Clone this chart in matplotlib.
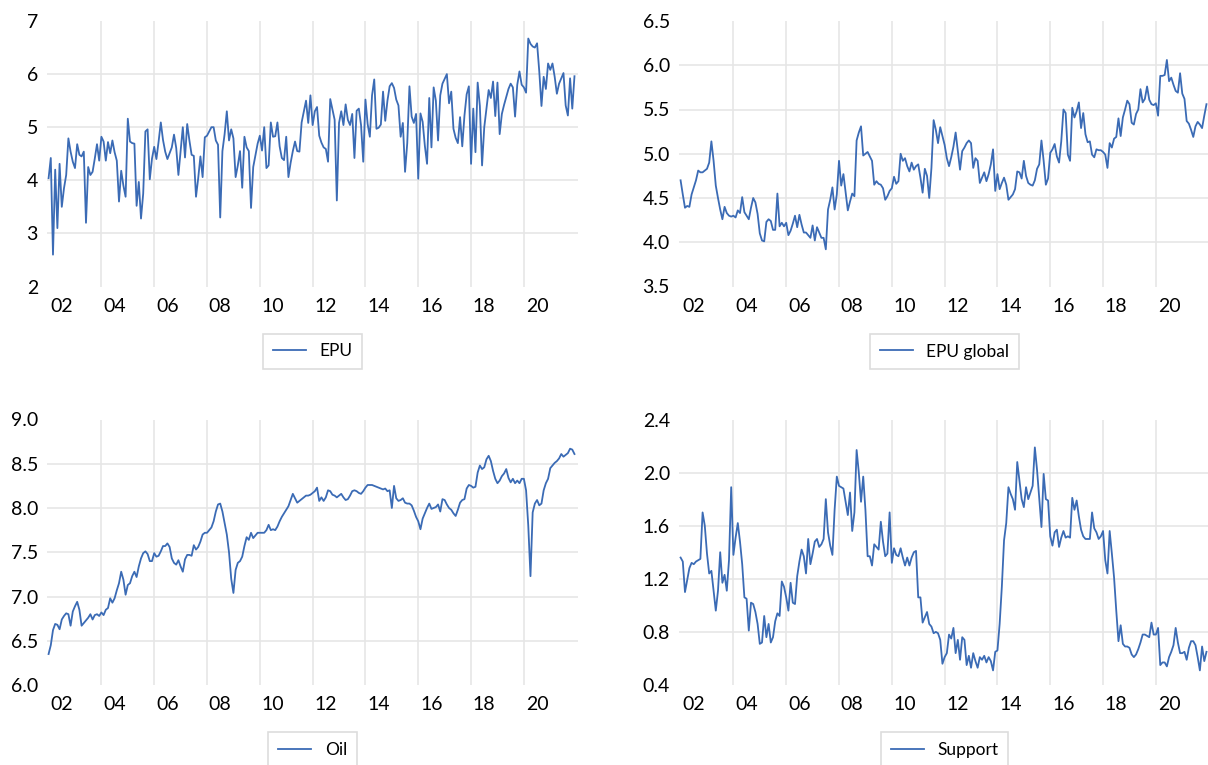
import numpy as np
import matplotlib
matplotlib.use("Agg")
import matplotlib.pyplot as plt

# monthly series, 2002M01 - 2021M12
epu = [4.04, 4.42, 2.60, 4.20, 3.10, 4.31, 3.50, 3.85, 4.10, 4.79, 4.54, 4.35,
       4.23, 4.68, 4.48, 4.45, 4.54, 3.20, 4.25, 4.10, 4.16, 4.41, 4.68, 4.37,
       4.82, 4.73, 4.37, 4.72, 4.51, 4.75, 4.53, 4.37, 3.60, 4.18, 3.90, 3.69,
       5.16, 4.73, 4.70, 4.69, 3.52, 3.97, 3.28, 3.75, 4.92, 4.96, 4.02, 4.41,
       4.63, 4.40, 4.73, 5.09, 4.76, 4.54, 4.40, 4.51, 4.62, 4.86, 4.61, 4.10,
       4.54, 5.00, 4.43, 5.06, 4.75, 4.48, 4.46, 3.69, 4.04, 4.45, 4.06, 4.81,
       4.84, 4.92, 5.00, 5.00, 4.75, 4.67, 3.30, 4.55, 4.87, 5.30, 4.75, 4.96,
       4.79, 4.06, 4.28, 4.55, 3.86, 4.82, 4.62, 4.55, 3.48, 4.25, 4.47, 4.69,
       4.84, 4.56, 5.00, 4.23, 4.28, 5.09, 4.82, 4.83, 5.09, 4.64, 4.42, 4.38,
       4.82, 4.06, 4.33, 4.55, 4.73, 4.55, 4.54, 5.09, 5.30, 5.50, 5.08, 5.60,
       5.04, 5.30, 5.38, 4.84, 4.71, 4.62, 4.59, 4.35, 5.53, 5.33, 5.14, 3.62,
       5.08, 5.30, 5.04, 5.43, 5.14, 5.04, 5.25, 4.42, 5.31, 5.35, 5.04, 4.35,
       5.52, 5.06, 4.82, 5.60, 5.90, 4.97, 4.99, 5.05, 5.67, 5.12, 5.50, 5.77,
       5.83, 5.74, 5.52, 5.41, 4.82, 5.08, 4.16, 4.70, 5.77, 5.20, 5.08, 5.25,
       4.03, 5.26, 5.10, 4.65, 4.31, 5.55, 4.62, 5.75, 5.50, 4.75, 5.60, 5.82,
       5.91, 6.00, 5.45, 5.67, 4.97, 4.80, 4.70, 5.19, 4.64, 5.22, 5.62, 5.77,
       4.31, 5.35, 4.53, 5.84, 5.40, 4.28, 5.00, 5.35, 5.70, 5.55, 5.86, 5.21,
       5.84, 4.87, 5.25, 5.42, 5.57, 5.72, 5.82, 5.75, 5.20, 5.80, 6.05, 5.80,
       5.75, 5.65, 6.67, 6.57, 6.52, 6.50, 6.58, 6.05, 5.40, 5.95, 5.72, 6.20,
       6.08, 6.20, 5.95, 5.63, 5.82, 5.92, 6.02, 5.41, 5.22, 5.92, 5.35, 5.96]

epu_global = [4.70, 4.54, 4.39, 4.41, 4.40, 4.54, 4.62, 4.70, 4.81, 4.79, 4.79, 4.81,
              4.83, 4.90, 5.14, 4.92, 4.64, 4.50, 4.37, 4.26, 4.40, 4.33, 4.30, 4.29,
              4.30, 4.28, 4.36, 4.33, 4.51, 4.34, 4.30, 4.26, 4.39, 4.50, 4.45, 4.32,
              4.10, 4.02, 4.01, 4.23, 4.26, 4.24, 4.14, 4.14, 4.55, 4.18, 4.22, 4.18,
              4.22, 4.08, 4.13, 4.21, 4.30, 4.17, 4.31, 4.20, 4.11, 4.11, 4.08, 4.05,
              4.19, 4.02, 4.17, 4.11, 4.05, 4.05, 3.92, 4.37, 4.48, 4.62, 4.37, 4.54,
              4.92, 4.64, 4.77, 4.56, 4.36, 4.46, 4.55, 4.52, 5.15, 5.24, 5.31, 4.98,
              5.00, 5.02, 4.97, 4.92, 4.65, 4.69, 4.66, 4.65, 4.61, 4.48, 4.52, 4.58,
              4.61, 4.74, 4.66, 4.69, 5.00, 4.92, 4.95, 4.86, 4.80, 4.90, 4.82, 4.86,
              4.88, 4.73, 4.56, 4.83, 4.75, 4.50, 4.84, 5.38, 5.27, 5.12, 5.30, 5.20,
              5.10, 4.95, 4.86, 4.96, 5.08, 5.24, 5.03, 4.82, 5.03, 5.07, 5.12, 5.15,
              5.12, 4.84, 4.95, 4.92, 4.67, 4.73, 4.79, 4.69, 4.77, 4.88, 5.05, 4.58,
              4.77, 4.60, 4.67, 4.73, 4.65, 4.48, 4.51, 4.54, 4.60, 4.80, 4.79, 4.72,
              4.92, 4.75, 4.67, 4.65, 4.64, 4.70, 4.83, 4.88, 5.15, 4.92, 4.65, 4.72,
              5.01, 5.05, 5.11, 4.97, 4.90, 5.14, 5.50, 5.46, 4.99, 4.92, 5.52, 5.41,
              5.48, 5.58, 5.29, 5.46, 5.22, 5.13, 5.14, 4.99, 4.96, 5.05, 5.04, 5.04,
              5.02, 4.99, 4.84, 5.12, 5.07, 5.17, 5.19, 5.40, 5.20, 5.41, 5.50, 5.60,
              5.56, 5.35, 5.33, 5.45, 5.50, 5.73, 5.58, 5.62, 5.76, 5.61, 5.56, 5.55,
              5.57, 5.43, 5.88, 5.88, 5.89, 6.06, 5.82, 5.86, 5.78, 5.71, 5.69, 5.91,
              5.68, 5.62, 5.37, 5.34, 5.27, 5.19, 5.31, 5.36, 5.33, 5.29, 5.43, 5.56]

oil = [6.35, 6.45, 6.62, 6.69, 6.68, 6.63, 6.74, 6.78, 6.81, 6.80, 6.67, 6.83,
       6.89, 6.94, 6.85, 6.67, 6.70, 6.73, 6.76, 6.80, 6.74, 6.79, 6.80, 6.78,
       6.82, 6.79, 6.85, 6.87, 6.98, 6.93, 6.98, 7.07, 7.15, 7.28, 7.19, 7.02,
       7.13, 7.15, 7.23, 7.28, 7.22, 7.34, 7.43, 7.49, 7.51, 7.48, 7.40, 7.40,
       7.49, 7.45, 7.46, 7.51, 7.57, 7.57, 7.60, 7.56, 7.43, 7.38, 7.36, 7.41,
       7.34, 7.28, 7.42, 7.47, 7.47, 7.46, 7.58, 7.53, 7.56, 7.62, 7.70, 7.72,
       7.72, 7.75, 7.78, 7.85, 7.96, 8.04, 8.05, 7.96, 7.83, 7.70, 7.50, 7.20,
       7.04, 7.30, 7.38, 7.40, 7.45, 7.57, 7.67, 7.64, 7.72, 7.66, 7.69, 7.72,
       7.72, 7.72, 7.72, 7.75, 7.81, 7.75, 7.76, 7.75, 7.79, 7.85, 7.90, 7.94,
       7.98, 8.02, 8.09, 8.16, 8.11, 8.06, 8.08, 8.10, 8.12, 8.14, 8.14, 8.15,
       8.17, 8.19, 8.23, 8.08, 8.12, 8.08, 8.12, 8.20, 8.19, 8.15, 8.14, 8.12,
       8.14, 8.16, 8.12, 8.09, 8.10, 8.14, 8.19, 8.20, 8.19, 8.17, 8.16, 8.19,
       8.23, 8.26, 8.26, 8.26, 8.25, 8.24, 8.23, 8.22, 8.21, 8.22, 8.19, 8.20,
       8.00, 8.25, 8.11, 8.08, 8.09, 8.11, 8.06, 8.05, 8.05, 8.03, 7.97, 7.90,
       7.85, 7.76, 7.88, 7.94, 8.00, 8.05, 7.99, 8.00, 8.01, 8.04, 7.96, 8.10,
       8.09, 8.04, 8.00, 7.98, 7.94, 7.91, 7.98, 8.06, 8.09, 8.10, 8.22, 8.26,
       8.25, 8.23, 8.24, 8.40, 8.48, 8.44, 8.46, 8.55, 8.59, 8.53, 8.42, 8.33,
       8.28, 8.31, 8.36, 8.39, 8.44, 8.34, 8.29, 8.33, 8.28, 8.31, 8.28, 8.33,
       8.33, 8.20, 7.80, 7.23, 7.95, 8.05, 8.09, 8.03, 8.05, 8.20, 8.28, 8.33,
       8.45, 8.48, 8.51, 8.53, 8.56, 8.61, 8.58, 8.60, 8.62, 8.67, 8.66, 8.61]

support = [1.36, 1.33, 1.10, 1.19, 1.28, 1.32, 1.31, 1.33, 1.34, 1.35, 1.70, 1.60,
           1.39, 1.24, 1.26, 1.11, 0.96, 1.11, 1.40, 1.17, 1.23, 1.11, 1.34, 1.89,
           1.38, 1.51, 1.62, 1.48, 1.31, 1.06, 1.05, 0.81, 1.02, 1.01, 0.95, 0.86,
           0.71, 0.72, 0.92, 0.76, 0.86, 0.72, 0.76, 0.88, 0.94, 0.92, 1.18, 1.14,
           1.06, 0.96, 1.17, 1.02, 1.01, 1.22, 1.33, 1.42, 1.37, 1.24, 1.50, 1.31,
           1.39, 1.48, 1.50, 1.44, 1.46, 1.50, 1.80, 1.55, 1.45, 1.38, 1.72, 1.97,
           1.90, 1.89, 1.88, 1.78, 1.68, 1.85, 1.56, 1.70, 2.17, 2.00, 1.78, 1.97,
           1.72, 1.37, 1.37, 1.30, 1.46, 1.44, 1.42, 1.63, 1.48, 1.37, 1.39, 1.70,
           1.32, 1.43, 1.38, 1.37, 1.43, 1.36, 1.30, 1.36, 1.30, 1.36, 1.40, 1.41,
           1.06, 1.06, 0.87, 0.91, 0.95, 0.86, 0.84, 0.79, 0.80, 0.79, 0.74, 0.56,
           0.61, 0.64, 0.78, 0.75, 0.83, 0.64, 0.74, 0.59, 0.76, 0.74, 0.55, 0.62,
           0.53, 0.64, 0.58, 0.53, 0.61, 0.59, 0.62, 0.57, 0.61, 0.58, 0.51, 0.65,
           0.66, 0.86, 1.14, 1.49, 1.62, 1.89, 1.84, 1.80, 1.72, 2.08, 1.94, 1.80,
           1.74, 1.89, 1.80, 1.85, 1.90, 2.19, 2.02, 1.80, 1.59, 1.99, 1.80, 1.79,
           1.52, 1.45, 1.55, 1.57, 1.44, 1.51, 1.56, 1.51, 1.52, 1.51, 1.81, 1.72,
           1.79, 1.67, 1.57, 1.52, 1.50, 1.50, 1.50, 1.70, 1.58, 1.55, 1.50, 1.52,
           1.56, 1.34, 1.24, 1.56, 1.39, 1.21, 0.96, 0.73, 0.85, 0.71, 0.69, 0.69,
           0.68, 0.63, 0.61, 0.63, 0.67, 0.72, 0.78, 0.78, 0.77, 0.76, 0.87, 0.78,
           0.78, 0.83, 0.55, 0.57, 0.57, 0.54, 0.61, 0.65, 0.70, 0.83, 0.72, 0.64,
           0.64, 0.65, 0.59, 0.68, 0.73, 0.73, 0.70, 0.61, 0.51, 0.69, 0.58, 0.65]

grid_years = [2004, 2006, 2008, 2010, 2012, 2014, 2016, 2018, 2020]
label_years = [2002, 2004, 2006, 2008, 2010, 2012, 2014, 2016, 2018, 2020]
year_labels = ["02", "04", "06", "08", "10", "12", "14", "16", "18", "20"]

t = 2002 + np.arange(len(epu)) / 12.0

plt.rcParams['font.family'] = ['Lato', 'DejaVu Sans']

W, H = 1208, 765
fig = plt.figure(figsize=(W / 100, H / 100), dpi=100)

line_c = '#3b6bb5'
grid_c = '#e6e6e6'

# (series, legend label, y ticks, label format, left px, top px)
panels = [
    (epu, 'EPU', [2, 3, 4, 5, 6, 7], '{:.0f}', 47, 21),
    (epu_global, 'EPU global', [3.5, 4.0, 4.5, 5.0, 5.5, 6.0, 6.5], '{:.1f}', 679, 21),
    (oil, 'Oil', [6.0, 6.5, 7.0, 7.5, 8.0, 8.5, 9.0], '{:.1f}', 47, 419.5),
    (support, 'Support', [0.4, 0.8, 1.2, 1.6, 2.0, 2.4], '{:.1f}', 679, 419.5),
]

pw, ph = 531, 265.5
for series, name, yt, fmt, lx, ty in panels:
    ax = fig.add_axes([lx / W, 1 - (ty + ph) / H, pw / W, ph / H])
    for yr in grid_years:
        ax.axvline(yr, color=grid_c, lw=1.2, zorder=0)
    for v in yt[1:-1]:
        ax.axhline(v, color=grid_c, lw=1.2, zorder=0)
    ax.plot(t, series, color=line_c, lw=1.3, label=name, zorder=3)
    ax.set_xlim(2001.94, 2022.05)
    ax.set_ylim(yt[0], yt[-1])
    ax.set_yticks(yt)
    ax.set_yticklabels([fmt.format(v) for v in yt])
    ax.set_xticks([y + 0.5 for y in label_years])
    ax.set_xticklabels(year_labels)
    ax.tick_params(axis='x', length=0, pad=8, labelsize=14)
    ax.tick_params(axis='y', length=0, pad=6.5, labelsize=14)
    for s in ax.spines.values():
        s.set_visible(False)
    leg = ax.legend(loc='center', bbox_to_anchor=(0.5, -65 / ph), frameon=True,
                    fancybox=False, edgecolor='#d4d4d4', fontsize=12.5,
                    handlelength=1.9, borderpad=0.55, handletextpad=0.8)
    leg.get_frame().set_linewidth(1.2)

fig.savefig('out.png', dpi=100)
